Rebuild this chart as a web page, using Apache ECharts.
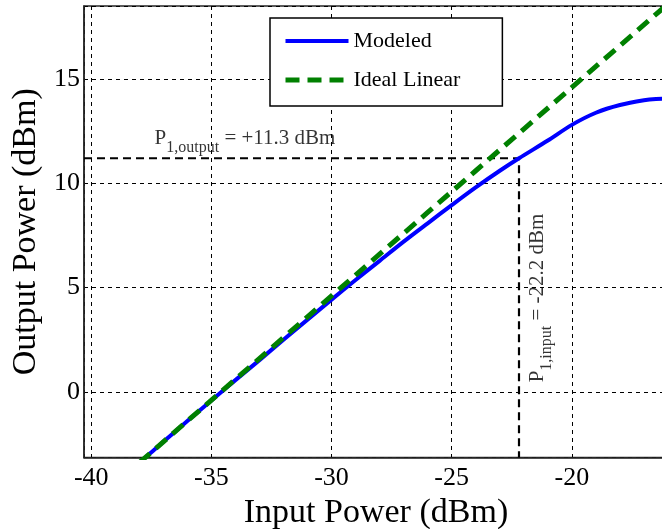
<!DOCTYPE html>
<html>
<head>
<meta charset="utf-8">
<script src="https://cdn.jsdelivr.net/npm/echarts@6/dist/echarts.min.js"></script>
<style>
html,body{margin:0;padding:0;background:#fff;}
#c{width:662px;height:529px;}
</style>
</head>
<body>
<div id="c"></div>
<script>
// ---- data ----
const modeledX = [-38, -37, -36, -35, -34, -33, -32, -31, -30, -29, -28, -27, -26, -25, -24, -23, -22.2, -21, -20, -19, -18, -17, -16.5, -16];
const modeledY = [-3.4, -2.4, -1.4, -0.42, 0.56, 1.52, 2.5, 3.46, 4.42, 5.36, 6.28, 7.2, 8.08, 8.95, 9.8, 10.6, 11.2, 12.05, 12.8, 13.38, 13.75, 13.98, 14.04, 14.05];
const idealX = [-38, -36, -34, -32, -30, -28, -26, -24, -22, -20, -18, -16];
const idealY = [-3.4, -1.4, 0.6, 2.6, 4.6, 6.6, 8.6, 10.6, 12.6, 14.6, 16.6, 18.6];
const p1Input = -22.2;   // dBm
const p1Output = 11.2;   // dBm (line level)
const p1OutputText = '+11.3 dBm';
const p1InputText = '-22.2 dBm';
const seriesNames = ['Modeled', 'Ideal Linear'];
const xTitle = 'Input Power (dBm)';
const yTitle = 'Output Power (dBm)';
const xRange = [-40.3, -16];
const yRange = [-3.15, 18.5];

// ---- build ----
const FONT = 'Liberation Serif';
const zip = (a, b) => a.map((v, i) => [v, b[i]]);
const guide = [[xRange[0], p1Output], [p1Input, p1Output], [p1Input, yRange[0]]];

const mainTok = {fontFamily: FONT, fontSize: 21, color: '#000', verticalAlign: 'bottom', padding: [0, 0, 7, 0]};
const subTok = {fontFamily: FONT, fontSize: 16, color: '#000', verticalAlign: 'bottom'};

const chart = echarts.init(document.getElementById('c'), null, {renderer: 'canvas'});
chart.setOption({
  animation: false,
  backgroundColor: '#fff',
  textStyle: {fontFamily: FONT, color: '#000'},
  grid: {left: 84, right: -6, top: 6, bottom: 71.5, containLabel: false,
         outerBounds: {left: -300, top: -300, right: -300, bottom: -300},
         show: true, borderColor: '#262626', borderWidth: 1.5, backgroundColor: 'transparent'},
  legend: {
    data: seriesNames,
    orient: 'vertical',
    left: 270, top: 18,
    itemWidth: 63, itemHeight: 22, itemGap: 17,
    padding: [12, 42, 15, 13],
    borderColor: '#000', borderWidth: 1.5, backgroundColor: '#fff',
    itemStyle: {opacity: 0},
    lineStyle: {width: 'inherit'},
    textStyle: {fontFamily: FONT, fontSize: 22, color: '#000'},
    selectedMode: false
  },
  xAxis: {
    type: 'value', min: xRange[0], max: xRange[1], splitNumber: 5,
    name: xTitle, nameLocation: 'middle', nameGap: 28,
    nameTextStyle: {fontFamily: FONT, fontSize: 34, color: '#000'},
    axisLine: {show: true, onZero: false, lineStyle: {color: '#262626', width: 1.5}},
    axisTick: {show: false},
    axisLabel: {fontFamily: FONT, fontSize: 26, color: '#000', margin: 8, showMinLabel: false, showMaxLabel: false},
    splitLine: {show: true, lineStyle: {color: '#000', width: 1, type: [4, 4]}}
  },
  yAxis: {
    type: 'value', min: yRange[0], max: yRange[1], splitNumber: 5,
    name: yTitle, nameLocation: 'middle', nameGap: 36,
    nameTextStyle: {fontFamily: FONT, fontSize: 34, color: '#000'},
    axisLine: {show: true, onZero: false, lineStyle: {color: '#262626', width: 1.5}},
    axisTick: {show: false},
    axisLabel: {fontFamily: FONT, fontSize: 26, color: '#000', margin: 4, showMinLabel: false, showMaxLabel: false},
    splitLine: {show: true, lineStyle: {color: '#000', width: 1, type: [4, 4]}}
  },
  series: [
    {
      name: 'guide', type: 'line', data: guide, symbol: 'none', silent: true, z: 3,
      lineStyle: {color: '#000', width: 2.2, type: [8, 5]}
    },
    {
      name: seriesNames[0], type: 'line', data: zip(modeledX, modeledY), symbol: 'none', smooth: 0.3, z: 4,
      lineStyle: {color: '#0000ff', width: 4}, itemStyle: {color: '#0000ff'}
    },
    {
      name: seriesNames[1], type: 'line', data: zip(idealX, idealY), symbol: 'none', z: 5,
      lineStyle: {color: '#008000', width: 5, type: [14, 8]}, itemStyle: {color: '#008000'}
    },
    {
      name: 'outLabel', type: 'scatter', symbolSize: 0, silent: true, z: 6,
      data: [[-33.6, 12.0]],
      label: {show: true, position: 'inside', align: 'center', verticalAlign: 'middle',
        formatter: '{m|P}{s|1,output}{m| = ' + p1OutputText + '}',
        rich: {m: mainTok, s: subTok}}
    },
    {
      name: 'inLabel', type: 'scatter', symbolSize: 0, silent: true, z: 6,
      data: [[-21.3, 4.5]],
      label: {show: true, position: 'inside', align: 'center', verticalAlign: 'middle', rotate: 90,
        formatter: '{m|P}{s|1,input}{m| = ' + p1InputText + '}',
        rich: {m: mainTok, s: subTok}}
    }
  ]
});
</script>
</body>
</html>
